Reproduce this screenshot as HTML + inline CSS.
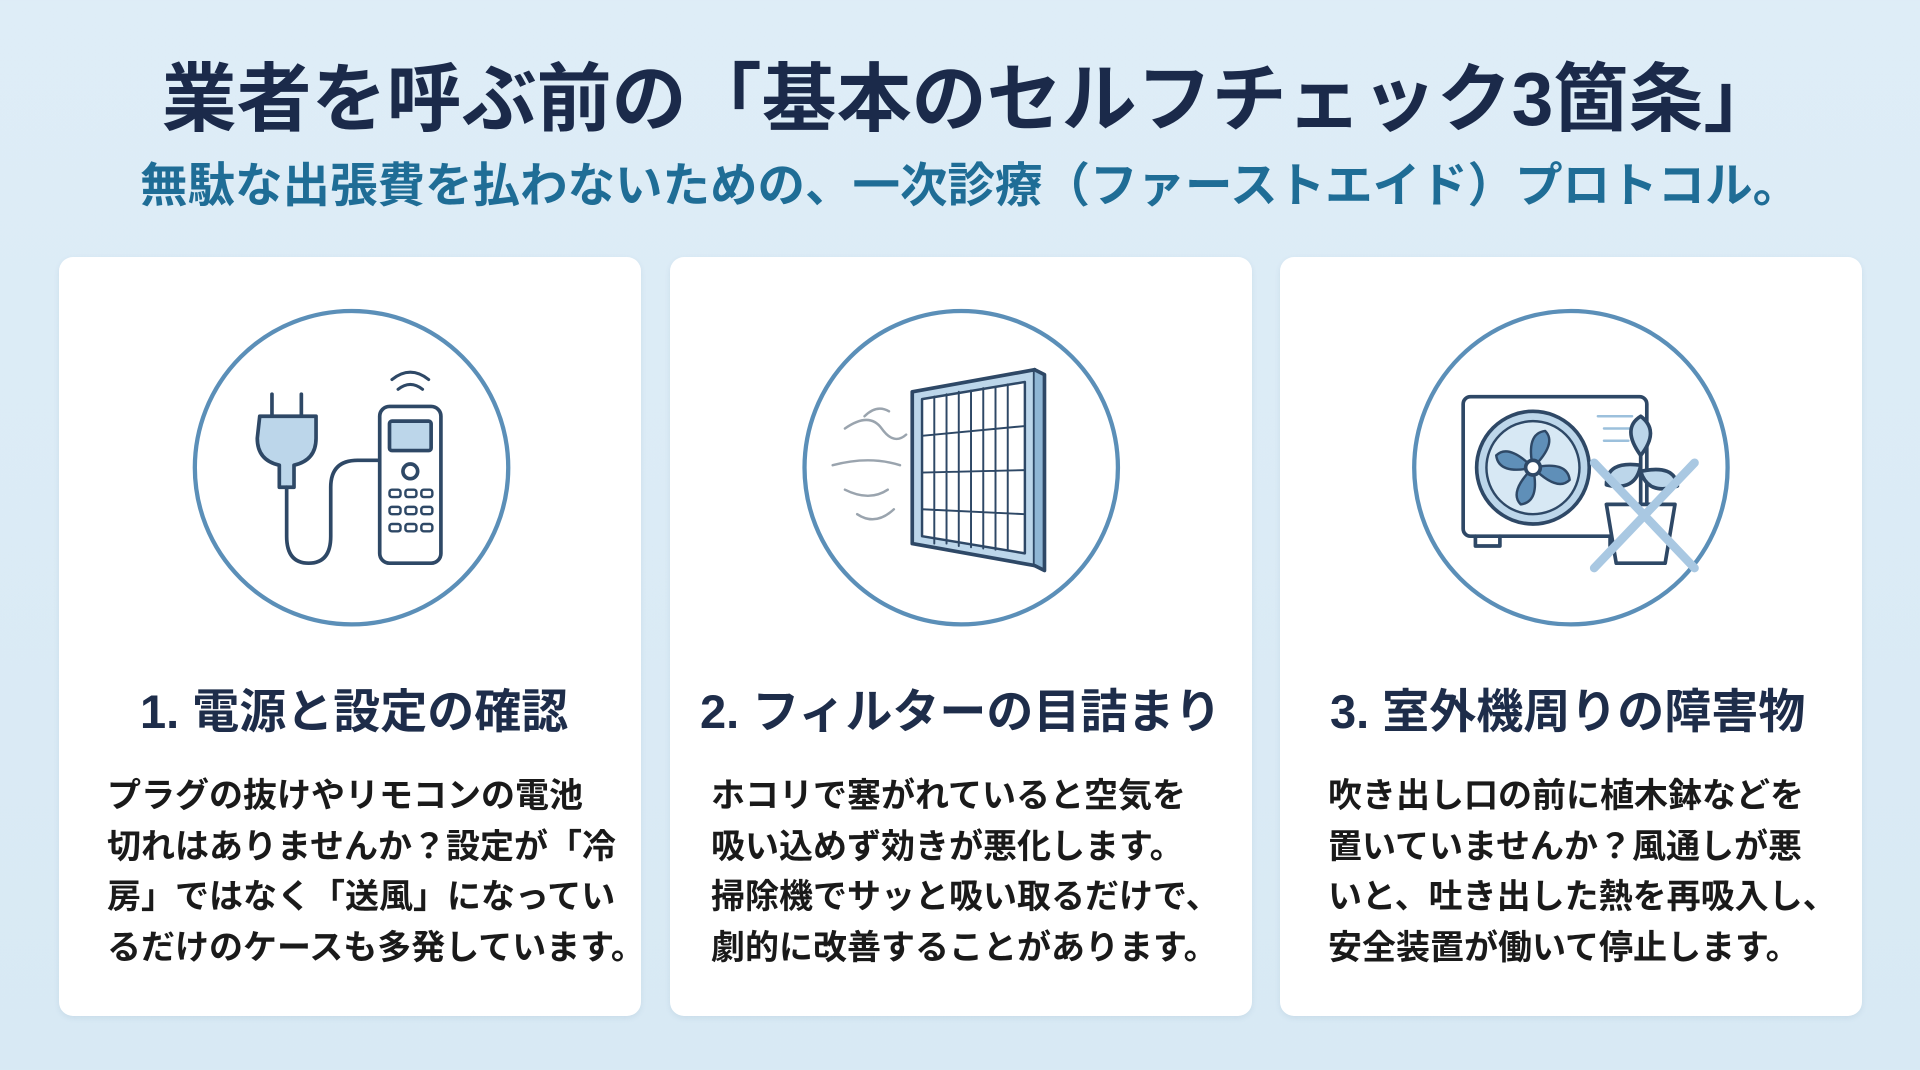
<!DOCTYPE html>
<html><head><meta charset="utf-8"><style>
html,body{margin:0;padding:0}
body{width:1920px;height:1070px;position:relative;overflow:hidden;background:linear-gradient(180deg,#deedf7 0%,#d8e9f4 100%);font-family:"Liberation Sans","Noto Sans CJK JP",sans-serif}
.t{position:absolute;white-space:nowrap;font-weight:bold}
.card{position:absolute;top:257px;width:582px;height:759px;background:#fff;border-radius:14px;box-shadow:0 2px 6px rgba(80,120,160,.12)}
.h{position:absolute;font-size:47px;font-weight:bold;color:#1e2d4a;white-space:nowrap}
.b{position:absolute;font-size:34px;font-weight:bold;color:#1a1a1a;line-height:50.5px;white-space:nowrap}
svg{position:absolute;left:0;top:0}
</style></head><body>
<div class="t" style="left:0;width:1940px;text-align:center;top:38px;font-size:75px;color:#1b2a4a;">業者を呼ぶ前の「基本のセルフチェック3箇条」</div>
<div class="t" style="left:140px;top:147px;font-size:47.5px;color:#1f6d96;">無駄な出張費を払わないための、一次診療（ファーストエイド）プロトコル。</div>

<div class="card" style="left:59px"></div>
<div class="card" style="left:670px"></div>
<div class="card" style="left:1280px"></div>

<svg width="1920" height="1070" viewBox="0 0 1568 874">
<g fill="none" stroke="#5b8fb8" stroke-width="3.5">
<circle cx="287" cy="382" r="128"/><circle cx="785" cy="382" r="128"/><circle cx="1283" cy="382" r="128"/>
</g>
<g stroke="#2e4866" stroke-width="3" stroke-linejoin="round" stroke-linecap="round">
<path d="M222 322v18M246 322v18" fill="none"/>
<path d="M212 340h46v18q0 18-18 22v18h-12v-18q-18-4-18-22z" fill="#bcd6ea"/>
<path d="M234 398v40q0 22 18 22t18-22v-40q0-22 22-22h16" fill="none"/>
<rect x="310" y="332" width="50" height="128" rx="8" fill="#fff"/>
<rect x="318" y="344" width="34" height="24" rx="2" fill="#bcd6ea"/>
<circle cx="335" cy="385" r="6" fill="#fff"/>
<g fill="#fff" stroke-width="2"><rect x="318" y="400" width="9" height="6" rx="2"/><rect x="331" y="400" width="9" height="6" rx="2"/><rect x="344" y="400" width="9" height="6" rx="2"/><rect x="318" y="414" width="9" height="6" rx="2"/><rect x="331" y="414" width="9" height="6" rx="2"/><rect x="344" y="414" width="9" height="6" rx="2"/><rect x="318" y="428" width="9" height="6" rx="2"/><rect x="331" y="428" width="9" height="6" rx="2"/><rect x="344" y="428" width="9" height="6" rx="2"/></g>
<path d="M325 318q10-8 20 0M320 310q15-12 30 0" fill="none" stroke-width="2.5"/>
<path d="M745 320l100-18v160l-100-18z" fill="#bcd6ea"/>
<path d="M753 326l84-14v140l-84-14z" fill="#fff" stroke-width="2"/>
<g stroke-width="1.6"><path d="M763 324v120M773 322v122M783 320v126M793 319v128M803 317v131M813 316v133M823 314v135M753 356l84-8M753 386l84-2M753 416l84 4"/></g>
<path d="M845 302l8 4v160l-8-4" fill="#8fb6d4"/>
<g stroke="#9aa4ae" stroke-width="2" fill="none"><path d="M690 350q20-14 30 0t20 5M680 380q30-8 55 0M690 400q20 10 35 0M700 420q15 10 30-4M706 340q10-10 20-4"/></g>
<rect x="1195" y="324" width="150" height="114" rx="6" fill="#fff"/>
<path d="M1205 438v8h20v-8M1315 438v8h20v-8" fill="none"/>
<circle cx="1252" cy="382" r="46" fill="#bcd6ea"/>
<circle cx="1252" cy="382" r="38" fill="#d7e8f4" stroke-width="2"/>
<g fill="#5f8fb8" stroke-width="2"><path d="M1252 382q-6-28 10-30q10 10-10 30z"/><path d="M1252 382q28-6 30 10q-10 10-30-10z"/><path d="M1252 382q6 28-10 30q-10-10 10-30z"/><path d="M1252 382q-28 6-30-10q10-10 30 10z"/></g>
<circle cx="1252" cy="382" r="6" fill="#fff"/>
<path d="M1305 340h28M1310 350h24M1310 360h20" stroke="#9cc0dc" stroke-width="2"/>
<path d="M1340 410v-40" fill="none"/>
<path d="M1340 380q-28-4-28 16q24 6 28-16zM1340 385q28-6 30 12q-24 8-30-12zM1340 372q-16-22 0-32q16 12 0 32z" fill="#bcd6ea"/>
<path d="M1312 412h56l-8 48h-40z" fill="#fff"/>
</g>
<path d="M1302 378l82 86M1384 378l-82 86" stroke="#a9c8e2" stroke-width="7" stroke-linecap="round"/>
</svg>

<div class="h" style="left:140px;top:673px">1. 電源と設定の確認</div>
<div class="h" style="left:700px;top:673px">2. フィルターの目詰まり</div>
<div class="h" style="left:1330px;top:673px">3. 室外機周りの障害物</div>

<div class="b" style="left:107px;top:771px">プラグの抜けやリモコンの電池<br>切れはありませんか？設定が「冷<br>房」ではなく「送風」になってい<br>るだけのケースも多発しています。</div>
<div class="b" style="left:711px;top:771px">ホコリで塞がれていると空気を<br>吸い込めず効きが悪化します。<br>掃除機でサッと吸い取るだけで、<br>劇的に改善することがあります。</div>
<div class="b" style="left:1328px;top:771px">吹き出し口の前に植木鉢などを<br>置いていませんか？風通しが悪<br>いと、吐き出した熱を再吸入し、<br>安全装置が働いて停止します。</div>
</body></html>
